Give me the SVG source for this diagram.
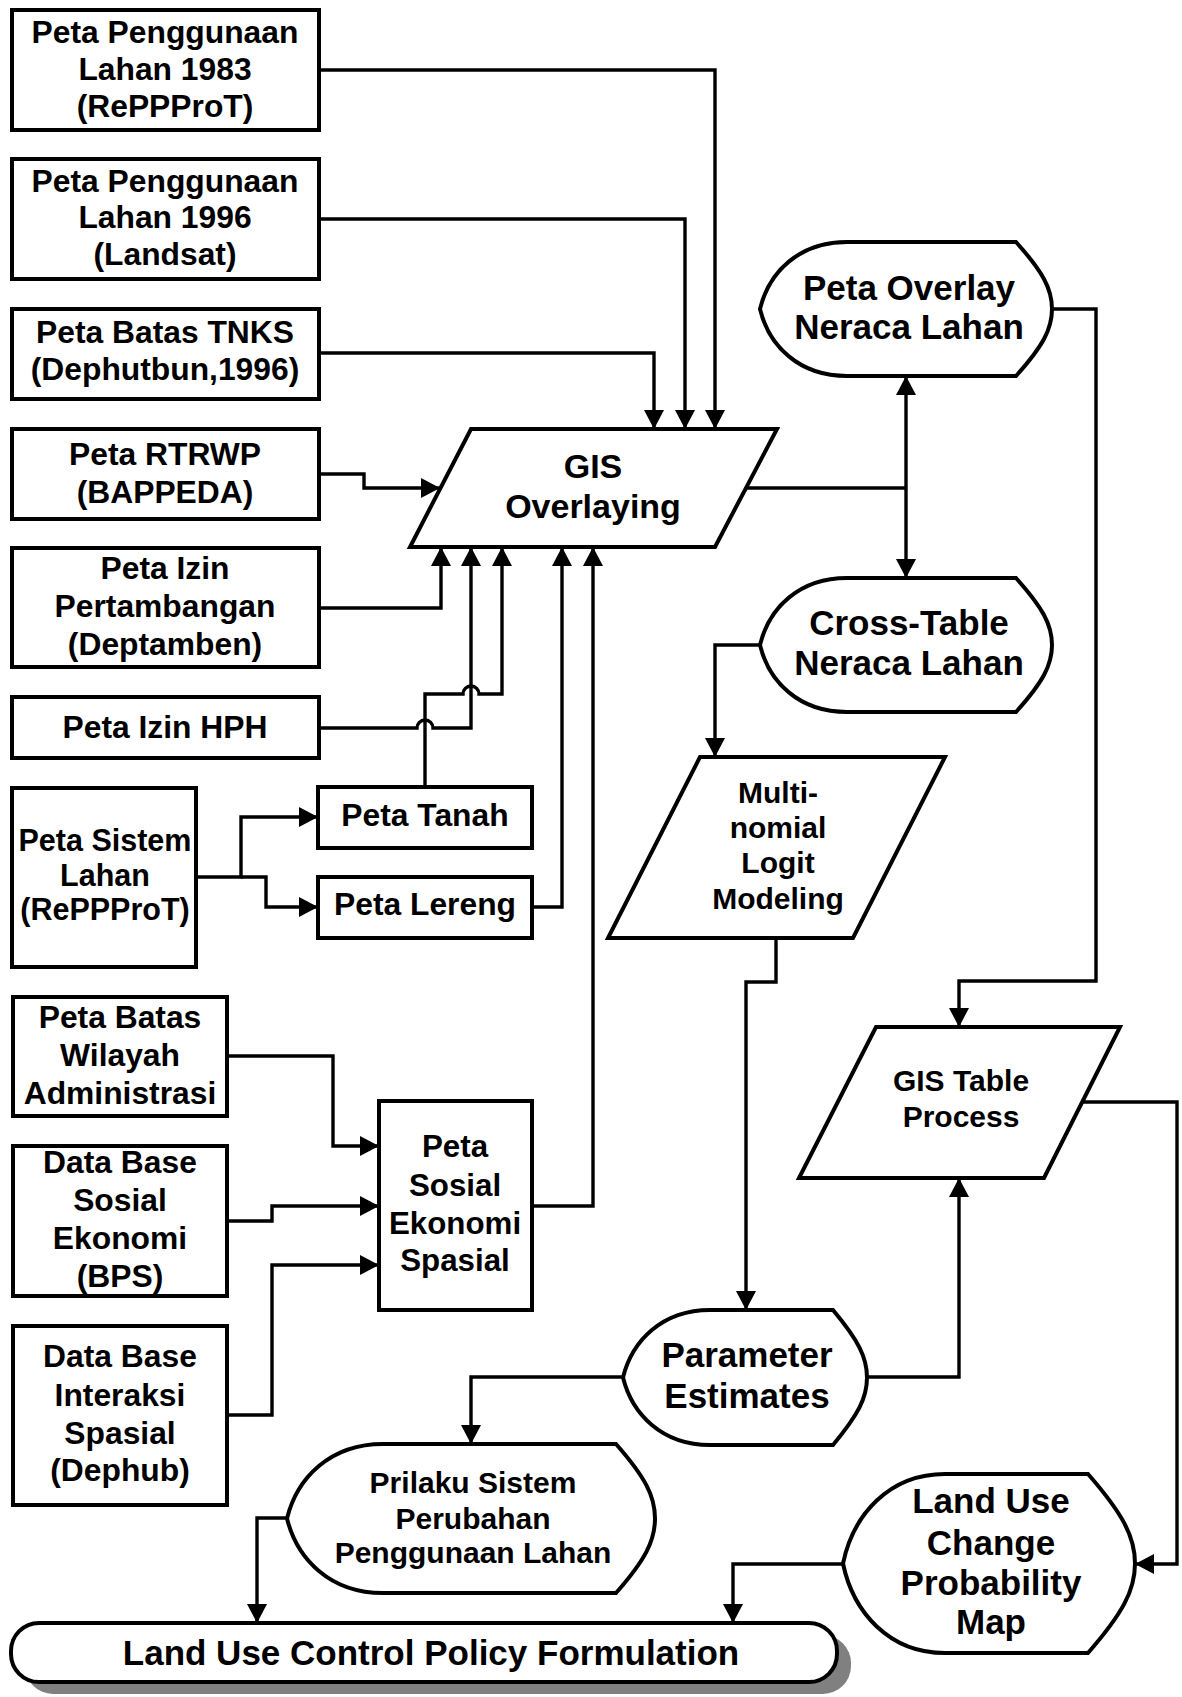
<svg xmlns="http://www.w3.org/2000/svg" width="1182" height="1697" viewBox="0 0 1182 1697">
<defs>
<style>
.box{fill:#fff;stroke:#000;stroke-width:4;stroke-linejoin:miter}
.ln{fill:none;stroke:#000;stroke-width:3.4}
text{font-family:"Liberation Sans",Arial,sans-serif;font-weight:bold;fill:#000;text-anchor:middle}
.f32{font-size:31.8px}
.f30{font-size:30px}
.f35{font-size:35px}
</style>
<marker id="ah" viewBox="0 0 19 20" refX="19" refY="10" markerWidth="19" markerHeight="20" markerUnits="userSpaceOnUse" orient="auto-start-reverse">
<path d="M0,0 L19,10 L0,20 Z" fill="#000"/>
</marker>
</defs>
<rect width="1182" height="1697" fill="#fff"/>

<g id="connectors">
<path class="ln" d="M319,70 H715 V429" marker-end="url(#ah)"/>
<path class="ln" d="M319,219 H685 V429" marker-end="url(#ah)"/>
<path class="ln" d="M319,353 H654 V429" marker-end="url(#ah)"/>
<path class="ln" d="M319,474 H364 V488 H440" marker-end="url(#ah)"/>
<path class="ln" d="M319,608 H441 V547" marker-end="url(#ah)"/>
<path class="ln" d="M319,728 H417 A8,8 0 0 1 433,728 H471 V547" marker-end="url(#ah)"/>
<path class="ln" d="M425,787 V694 H463 A8,8 0 0 1 479,694 H502 V547" marker-end="url(#ah)"/>
<path class="ln" d="M532,907 H562 V547" marker-end="url(#ah)"/>
<path class="ln" d="M532,1206 H593 V547" marker-end="url(#ah)"/>
<path class="ln" d="M196,877 H241 V817 H318" marker-end="url(#ah)"/>
<path class="ln" d="M241,877 H266 V907 H318" marker-end="url(#ah)"/>
<path class="ln" d="M227,1056 H333 V1146 H379" marker-end="url(#ah)"/>
<path class="ln" d="M227,1221 H272 V1206 H379" marker-end="url(#ah)"/>
<path class="ln" d="M227,1415 H272 V1265 H379" marker-end="url(#ah)"/>
<path class="ln" d="M746,488 H906"/>
<path class="ln" d="M906,376 V578" marker-start="url(#ah)" marker-end="url(#ah)"/>
<path class="ln" d="M760,645 H715 V757" marker-end="url(#ah)"/>
<path class="ln" d="M1052,309 H1096 V981 H959 V1027" marker-end="url(#ah)"/>
<path class="ln" d="M776,938 V982 H746 V1310" marker-end="url(#ah)"/>
<path class="ln" d="M867,1377 H959 V1178" marker-end="url(#ah)"/>
<path class="ln" d="M623,1377 H471 V1444" marker-end="url(#ah)"/>
<path class="ln" d="M1082,1102 H1177 V1564 H1135" marker-end="url(#ah)"/>
<path class="ln" d="M287,1518 H257 V1623" marker-end="url(#ah)"/>
<path class="ln" d="M843,1564 H733 V1623" marker-end="url(#ah)"/>
</g>

<g id="n-lahan1983">
<rect class="box" x="12" y="10" width="307" height="120"/>
<text class="f32" x="165" y="43">Peta Penggunaan</text>
<text class="f32" x="165" y="80">Lahan 1983</text>
<text class="f32" x="165" y="117">(RePPProT)</text>
</g>
<g id="n-lahan1996">
<rect class="box" x="12" y="159" width="307" height="120"/>
<text class="f32" x="165" y="192">Peta Penggunaan</text>
<text class="f32" x="165" y="228">Lahan 1996</text>
<text class="f32" x="165" y="265">(Landsat)</text>
</g>
<g id="n-tnks">
<rect class="box" x="12" y="309" width="307" height="90"/>
<text class="f32" x="165" y="343">Peta Batas TNKS</text>
<text class="f32" x="165" y="380">(Dephutbun,1996)</text>
</g>
<g id="n-rtrwp">
<rect class="box" x="12" y="429" width="307" height="90"/>
<text class="f32" x="165" y="465">Peta RTRWP</text>
<text class="f32" x="165" y="503">(BAPPEDA)</text>
</g>
<g id="n-tambang">
<rect class="box" x="12" y="548" width="307" height="119"/>
<text class="f32" x="165" y="579">Peta Izin</text>
<text class="f32" x="165" y="617">Pertambangan</text>
<text class="f32" x="165" y="655">(Deptamben)</text>
</g>
<g id="n-hph">
<rect class="box" x="12" y="697" width="307" height="61"/>
<text class="f32" x="165" y="738">Peta Izin HPH</text>
</g>
<g id="n-sistem">
<rect class="box" x="12" y="788" width="184" height="179"/>
<text style="font-size:30.5px" x="105" y="851">Peta Sistem</text>
<text style="font-size:30.5px" x="105" y="886">Lahan</text>
<text style="font-size:30.5px" x="105" y="920">(RePPProT)</text>
</g>
<g id="n-tanah">
<rect class="box" x="318" y="787" width="214" height="61"/>
<text class="f32" x="425" y="826">Peta Tanah</text>
</g>
<g id="n-lereng">
<rect class="box" x="318" y="877" width="214" height="61"/>
<text class="f32" x="425" y="915">Peta Lereng</text>
</g>
<g id="n-wilayah">
<rect class="box" x="13" y="997" width="214" height="119"/>
<text class="f32" x="120" y="1028">Peta Batas</text>
<text class="f32" x="120" y="1066">Wilayah</text>
<text class="f32" x="120" y="1104">Administrasi</text>
</g>
<g id="n-dbsosial">
<rect class="box" x="13" y="1146" width="214" height="150"/>
<text class="f32" x="120" y="1173">Data Base</text>
<text class="f32" x="120" y="1211">Sosial</text>
<text class="f32" x="120" y="1249">Ekonomi</text>
<text class="f32" x="120" y="1287">(BPS)</text>
</g>
<g id="n-dbinteraksi">
<rect class="box" x="13" y="1326" width="214" height="179"/>
<text class="f32" x="120" y="1367">Data Base</text>
<text class="f32" x="120" y="1406">Interaksi</text>
<text class="f32" x="120" y="1444">Spasial</text>
<text class="f32" x="120" y="1481">(Dephub)</text>
</g>
<g id="n-sosek">
<rect class="box" x="379" y="1101" width="153" height="209"/>
<text style="font-size:31.3px" x="455" y="1157">Peta</text>
<text style="font-size:31.3px" x="455" y="1196">Sosial</text>
<text style="font-size:31.3px" x="455" y="1234">Ekonomi</text>
<text style="font-size:31.3px" x="455" y="1271">Spasial</text>
</g>
<g id="n-gis">
<polygon class="box" points="471,429 777,429 715,547 410,547"/>
<text style="font-size:34px" x="593" y="478">GIS</text>
<text style="font-size:34px" x="593" y="518">Overlaying</text>
</g>
<g id="n-overlay">
<path class="box" d="M847,242 H1016 C1043,272 1052,289 1052,309 C1052,329 1043,346 1016,376 H847 C799,376 769,346 760,309 C769,272 799,242 847,242 Z"/>
<text class="f35" x="909" y="300">Peta Overlay</text>
<text class="f35" x="909" y="339">Neraca Lahan</text>
</g>
<g id="n-crosstable">
<path class="box" d="M847,578 H1016 C1043,608 1052,625 1052,645 C1052,665 1043,682 1016,712 H847 C799,712 769,682 760,645 C769,608 799,578 847,578 Z"/>
<text class="f35" x="909" y="635">Cross-Table</text>
<text class="f35" x="909" y="675">Neraca Lahan</text>
</g>
<g id="n-mnl">
<polygon class="box" points="700,757 945,757 853,938 608,938"/>
<text class="f30" x="778" y="803">Multi-</text>
<text class="f30" x="778" y="838">nomial</text>
<text class="f30" x="778" y="873">Logit</text>
<text class="f30" x="778" y="909">Modeling</text>
</g>
<g id="n-gistable">
<polygon class="box" points="876,1027 1120,1027 1044,1178 799,1178"/>
<text class="f30" x="961" y="1091">GIS Table</text>
<text class="f30" x="961" y="1127">Process</text>
</g>
<g id="n-param">
<path class="box" d="M710,1310 H833 C858,1340 867,1357 867,1377.5 C867,1398 858,1415 833,1445 H710 C662,1445 632,1414 623,1377.5 C632,1341 662,1310 710,1310 Z"/>
<text class="f35" x="747" y="1367">Parameter</text>
<text class="f35" x="747" y="1408">Estimates</text>
</g>
<g id="n-prilaku">
<path class="box" d="M383,1444 H616 C645,1477 655,1496 655,1518.5 C655,1541 645,1560 616,1593 H383 C330,1593 297,1559 287,1518.5 C297,1478 330,1444 383,1444 Z"/>
<text class="f30" x="473" y="1493">Prilaku Sistem</text>
<text class="f30" x="473" y="1529">Perubahan</text>
<text class="f30" x="473" y="1563">Penggunaan Lahan</text>
</g>
<g id="n-probmap">
<path class="box" d="M945,1474 H1088 C1123,1514 1135,1537 1135,1563.5 C1135,1590 1123,1613 1088,1653 H945 C889,1653 853,1612 843,1563.5 C853,1515 889,1474 945,1474 Z"/>
<text class="f35" x="991" y="1513">Land Use</text>
<text class="f35" x="991" y="1555">Change</text>
<text class="f35" x="991" y="1595">Probability</text>
<text class="f35" x="991" y="1634">Map</text>
</g>
<g id="n-policy">
<rect x="25" y="1635" width="826" height="59" rx="28" fill="#808080"/>
<rect class="box" x="11" y="1623" width="826" height="59" rx="28"/>
<text class="f35" x="431" y="1665">Land Use Control Policy Formulation</text>
</g>
</svg>
